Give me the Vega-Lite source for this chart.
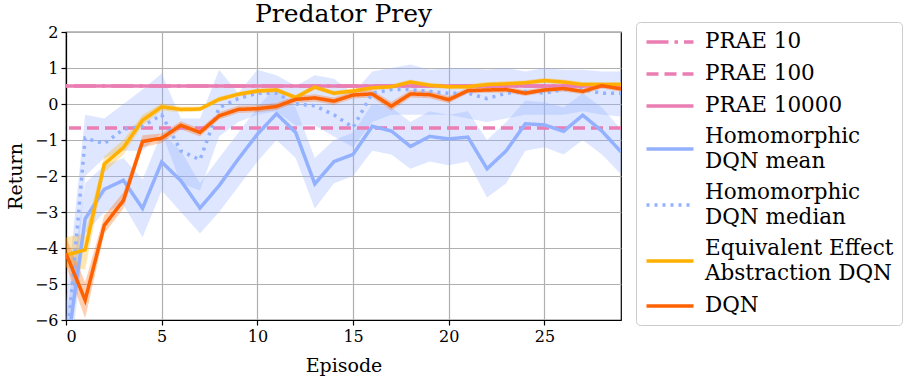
{
  "$schema": "https://vega.github.io/schema/vega-lite/v6.json",
  "autosize": "none",
  "width": 555,
  "height": 288,
  "padding": {"left": 66, "top": 32, "right": 292, "bottom": 61},
  "background": "white",
  "title": {"text": "Predator Prey", "font": "DejaVu Serif", "fontSize": 25, "fontWeight": "normal", "color": "black", "anchor": "middle", "offset": -5},
  "datasets": {
    "curves": [
      {"s": "Homomorphic DQN mean", "ep": 0, "v": -7, "lo": -8, "hi": -6},
      {"s": "Homomorphic DQN mean", "ep": 1, "v": -3.19, "lo": -3.6, "hi": -2.2},
      {"s": "Homomorphic DQN mean", "ep": 2, "v": -2.37, "lo": -3.0, "hi": -1.7},
      {"s": "Homomorphic DQN mean", "ep": 3, "v": -2.12, "lo": -2.8, "hi": -1.5},
      {"s": "Homomorphic DQN mean", "ep": 4, "v": -2.9, "lo": -3.7, "hi": -2.1},
      {"s": "Homomorphic DQN mean", "ep": 5, "v": -1.61, "lo": -2.4, "hi": -0.8},
      {"s": "Homomorphic DQN mean", "ep": 6, "v": -2.13, "lo": -3.0, "hi": -1.3},
      {"s": "Homomorphic DQN mean", "ep": 7, "v": -2.89, "lo": -3.6, "hi": -2.2},
      {"s": "Homomorphic DQN mean", "ep": 8, "v": -2.27, "lo": -3.0, "hi": -1.5},
      {"s": "Homomorphic DQN mean", "ep": 9, "v": -1.53, "lo": -2.3, "hi": -0.8},
      {"s": "Homomorphic DQN mean", "ep": 10, "v": -0.84, "lo": -1.6, "hi": -0.1},
      {"s": "Homomorphic DQN mean", "ep": 11, "v": -0.27, "lo": -1.0, "hi": 0.5},
      {"s": "Homomorphic DQN mean", "ep": 12, "v": -0.79, "lo": -1.5, "hi": -0.1},
      {"s": "Homomorphic DQN mean", "ep": 13, "v": -2.22, "lo": -2.9, "hi": -1.5},
      {"s": "Homomorphic DQN mean", "ep": 14, "v": -1.6, "lo": -2.2, "hi": -1.0},
      {"s": "Homomorphic DQN mean", "ep": 15, "v": -1.4, "lo": -2.0, "hi": -0.8},
      {"s": "Homomorphic DQN mean", "ep": 16, "v": -0.62, "lo": -1.3, "hi": 0.0},
      {"s": "Homomorphic DQN mean", "ep": 17, "v": -0.75, "lo": -1.4, "hi": -0.1},
      {"s": "Homomorphic DQN mean", "ep": 18, "v": -1.18, "lo": -1.8, "hi": -0.5},
      {"s": "Homomorphic DQN mean", "ep": 19, "v": -0.9, "lo": -1.6, "hi": -0.2},
      {"s": "Homomorphic DQN mean", "ep": 20, "v": -0.97, "lo": -1.7, "hi": -0.3},
      {"s": "Homomorphic DQN mean", "ep": 21, "v": -0.92, "lo": -1.6, "hi": -0.2},
      {"s": "Homomorphic DQN mean", "ep": 22, "v": -1.8, "lo": -2.6, "hi": -1.0},
      {"s": "Homomorphic DQN mean", "ep": 23, "v": -1.3, "lo": -2.2, "hi": -0.5},
      {"s": "Homomorphic DQN mean", "ep": 24, "v": -0.55, "lo": -1.3, "hi": 0.1},
      {"s": "Homomorphic DQN mean", "ep": 25, "v": -0.58, "lo": -1.2, "hi": 0.05},
      {"s": "Homomorphic DQN mean", "ep": 26, "v": -0.76, "lo": -1.4, "hi": -0.1},
      {"s": "Homomorphic DQN mean", "ep": 27, "v": -0.31, "lo": -1.0, "hi": 0.3},
      {"s": "Homomorphic DQN mean", "ep": 28, "v": -0.75, "lo": -1.4, "hi": -0.1},
      {"s": "Homomorphic DQN mean", "ep": 29, "v": -1.33, "lo": -1.95, "hi": -0.7},
      {"s": "Homomorphic DQN median", "ep": 0, "v": -7, "lo": -8, "hi": -5.5},
      {"s": "Homomorphic DQN median", "ep": 1, "v": -0.95, "lo": -2.0, "hi": -0.3},
      {"s": "Homomorphic DQN median", "ep": 2, "v": -1.1, "lo": -1.5, "hi": -0.4},
      {"s": "Homomorphic DQN median", "ep": 3, "v": -0.7, "lo": -1.3, "hi": 0.0},
      {"s": "Homomorphic DQN median", "ep": 4, "v": -0.62, "lo": -1.3, "hi": 0.4},
      {"s": "Homomorphic DQN median", "ep": 5, "v": -0.3, "lo": -0.8, "hi": 0.85},
      {"s": "Homomorphic DQN median", "ep": 6, "v": -1.3, "lo": -2.2, "hi": -0.4},
      {"s": "Homomorphic DQN median", "ep": 7, "v": -1.55, "lo": -2.4, "hi": -0.4},
      {"s": "Homomorphic DQN median", "ep": 8, "v": -0.1, "lo": -0.9, "hi": 0.95},
      {"s": "Homomorphic DQN median", "ep": 9, "v": 0.15, "lo": -0.5, "hi": 0.3},
      {"s": "Homomorphic DQN median", "ep": 10, "v": 0.3, "lo": -0.3, "hi": 0.95},
      {"s": "Homomorphic DQN median", "ep": 11, "v": 0.3, "lo": -0.2, "hi": 0.8},
      {"s": "Homomorphic DQN median", "ep": 12, "v": 0.0, "lo": -0.6, "hi": 0.5},
      {"s": "Homomorphic DQN median", "ep": 13, "v": -0.05, "lo": -0.6, "hi": 0.8},
      {"s": "Homomorphic DQN median", "ep": 14, "v": -0.3, "lo": -0.9, "hi": 0.7},
      {"s": "Homomorphic DQN median", "ep": 15, "v": -0.65, "lo": -1.2, "hi": 0.3},
      {"s": "Homomorphic DQN median", "ep": 16, "v": 0.3, "lo": -0.5, "hi": 0.9},
      {"s": "Homomorphic DQN median", "ep": 17, "v": 0.4, "lo": -0.3, "hi": 1.0},
      {"s": "Homomorphic DQN median", "ep": 18, "v": 0.4, "lo": -0.3, "hi": 1.1},
      {"s": "Homomorphic DQN median", "ep": 19, "v": 0.35, "lo": -0.3, "hi": 0.95},
      {"s": "Homomorphic DQN median", "ep": 20, "v": 0.3, "lo": -0.3, "hi": 1.0},
      {"s": "Homomorphic DQN median", "ep": 21, "v": 0.3, "lo": -0.4, "hi": 1.0},
      {"s": "Homomorphic DQN median", "ep": 22, "v": 0.15, "lo": -0.5, "hi": 0.95},
      {"s": "Homomorphic DQN median", "ep": 23, "v": 0.3, "lo": -0.4, "hi": 1.0},
      {"s": "Homomorphic DQN median", "ep": 24, "v": 0.35, "lo": -0.3, "hi": 0.9},
      {"s": "Homomorphic DQN median", "ep": 25, "v": 0.3, "lo": -0.3, "hi": 1.0},
      {"s": "Homomorphic DQN median", "ep": 26, "v": 0.4, "lo": -0.3, "hi": 0.95},
      {"s": "Homomorphic DQN median", "ep": 27, "v": 0.4, "lo": -0.2, "hi": 0.95},
      {"s": "Homomorphic DQN median", "ep": 28, "v": 0.3, "lo": -0.3, "hi": 0.9},
      {"s": "Homomorphic DQN median", "ep": 29, "v": 0.3, "lo": -0.35, "hi": 0.9},
      {"s": "Equivalent Effect Abstraction DQN", "ep": 0, "v": -4.2, "lo": -4.55, "hi": -3.7},
      {"s": "Equivalent Effect Abstraction DQN", "ep": 1, "v": -4.05, "lo": -4.6, "hi": -3.6},
      {"s": "Equivalent Effect Abstraction DQN", "ep": 2, "v": -1.67, "lo": -1.9, "hi": -1.45},
      {"s": "Equivalent Effect Abstraction DQN", "ep": 3, "v": -1.21, "lo": -1.4, "hi": -1.0},
      {"s": "Equivalent Effect Abstraction DQN", "ep": 4, "v": -0.45, "lo": -0.6, "hi": -0.3},
      {"s": "Equivalent Effect Abstraction DQN", "ep": 5, "v": -0.08, "lo": -0.18, "hi": 0.02},
      {"s": "Equivalent Effect Abstraction DQN", "ep": 6, "v": -0.15, "lo": -0.23, "hi": -0.07},
      {"s": "Equivalent Effect Abstraction DQN", "ep": 7, "v": -0.14, "lo": -0.21, "hi": -0.07},
      {"s": "Equivalent Effect Abstraction DQN", "ep": 8, "v": 0.13, "lo": 0.06, "hi": 0.2},
      {"s": "Equivalent Effect Abstraction DQN", "ep": 9, "v": 0.27, "lo": 0.2, "hi": 0.34},
      {"s": "Equivalent Effect Abstraction DQN", "ep": 10, "v": 0.36, "lo": 0.29, "hi": 0.43},
      {"s": "Equivalent Effect Abstraction DQN", "ep": 11, "v": 0.39, "lo": 0.32, "hi": 0.46},
      {"s": "Equivalent Effect Abstraction DQN", "ep": 12, "v": 0.18, "lo": 0.11, "hi": 0.25},
      {"s": "Equivalent Effect Abstraction DQN", "ep": 13, "v": 0.47, "lo": 0.4, "hi": 0.54},
      {"s": "Equivalent Effect Abstraction DQN", "ep": 14, "v": 0.3, "lo": 0.23, "hi": 0.37},
      {"s": "Equivalent Effect Abstraction DQN", "ep": 15, "v": 0.36, "lo": 0.29, "hi": 0.43},
      {"s": "Equivalent Effect Abstraction DQN", "ep": 16, "v": 0.45, "lo": 0.38, "hi": 0.52},
      {"s": "Equivalent Effect Abstraction DQN", "ep": 17, "v": 0.48, "lo": 0.41, "hi": 0.55},
      {"s": "Equivalent Effect Abstraction DQN", "ep": 18, "v": 0.61, "lo": 0.54, "hi": 0.68},
      {"s": "Equivalent Effect Abstraction DQN", "ep": 19, "v": 0.52, "lo": 0.45, "hi": 0.59},
      {"s": "Equivalent Effect Abstraction DQN", "ep": 20, "v": 0.48, "lo": 0.41, "hi": 0.55},
      {"s": "Equivalent Effect Abstraction DQN", "ep": 21, "v": 0.48, "lo": 0.41, "hi": 0.55},
      {"s": "Equivalent Effect Abstraction DQN", "ep": 22, "v": 0.54, "lo": 0.47, "hi": 0.61},
      {"s": "Equivalent Effect Abstraction DQN", "ep": 23, "v": 0.56, "lo": 0.49, "hi": 0.63},
      {"s": "Equivalent Effect Abstraction DQN", "ep": 24, "v": 0.59, "lo": 0.52, "hi": 0.66},
      {"s": "Equivalent Effect Abstraction DQN", "ep": 25, "v": 0.65, "lo": 0.58, "hi": 0.72},
      {"s": "Equivalent Effect Abstraction DQN", "ep": 26, "v": 0.61, "lo": 0.54, "hi": 0.68},
      {"s": "Equivalent Effect Abstraction DQN", "ep": 27, "v": 0.54, "lo": 0.47, "hi": 0.61},
      {"s": "Equivalent Effect Abstraction DQN", "ep": 28, "v": 0.54, "lo": 0.47, "hi": 0.61},
      {"s": "Equivalent Effect Abstraction DQN", "ep": 29, "v": 0.54, "lo": 0.47, "hi": 0.61},
      {"s": "DQN", "ep": 0, "v": -4.15, "lo": -4.5, "hi": -3.7},
      {"s": "DQN", "ep": 1, "v": -5.45, "lo": -5.95, "hi": -4.95},
      {"s": "DQN", "ep": 2, "v": -3.37, "lo": -3.6, "hi": -3.1},
      {"s": "DQN", "ep": 3, "v": -2.68, "lo": -2.9, "hi": -2.45},
      {"s": "DQN", "ep": 4, "v": -1.04, "lo": -1.2, "hi": -0.87},
      {"s": "DQN", "ep": 5, "v": -0.95, "lo": -1.08, "hi": -0.82},
      {"s": "DQN", "ep": 6, "v": -0.59, "lo": -0.7, "hi": -0.48},
      {"s": "DQN", "ep": 7, "v": -0.79, "lo": -0.9, "hi": -0.68},
      {"s": "DQN", "ep": 8, "v": -0.33, "lo": -0.43, "hi": -0.23},
      {"s": "DQN", "ep": 9, "v": -0.15, "lo": -0.25, "hi": -0.05},
      {"s": "DQN", "ep": 10, "v": -0.13, "lo": -0.23, "hi": -0.03},
      {"s": "DQN", "ep": 11, "v": -0.07, "lo": -0.17, "hi": 0.03},
      {"s": "DQN", "ep": 12, "v": 0.13, "lo": 0.03, "hi": 0.23},
      {"s": "DQN", "ep": 13, "v": 0.17, "lo": 0.07, "hi": 0.27},
      {"s": "DQN", "ep": 14, "v": 0.08, "lo": -0.02, "hi": 0.18},
      {"s": "DQN", "ep": 15, "v": 0.25, "lo": 0.15, "hi": 0.35},
      {"s": "DQN", "ep": 16, "v": 0.28, "lo": 0.18, "hi": 0.38},
      {"s": "DQN", "ep": 17, "v": -0.06, "lo": -0.18, "hi": 0.06},
      {"s": "DQN", "ep": 18, "v": 0.28, "lo": 0.18, "hi": 0.38},
      {"s": "DQN", "ep": 19, "v": 0.26, "lo": 0.16, "hi": 0.36},
      {"s": "DQN", "ep": 20, "v": 0.12, "lo": 0.02, "hi": 0.22},
      {"s": "DQN", "ep": 21, "v": 0.37, "lo": 0.29, "hi": 0.45},
      {"s": "DQN", "ep": 22, "v": 0.39, "lo": 0.31, "hi": 0.47},
      {"s": "DQN", "ep": 23, "v": 0.4, "lo": 0.32, "hi": 0.48},
      {"s": "DQN", "ep": 24, "v": 0.3, "lo": 0.22, "hi": 0.38},
      {"s": "DQN", "ep": 25, "v": 0.39, "lo": 0.31, "hi": 0.47},
      {"s": "DQN", "ep": 26, "v": 0.43, "lo": 0.35, "hi": 0.51},
      {"s": "DQN", "ep": 27, "v": 0.35, "lo": 0.27, "hi": 0.43},
      {"s": "DQN", "ep": 28, "v": 0.51, "lo": 0.43, "hi": 0.59},
      {"s": "DQN", "ep": 29, "v": 0.42, "lo": 0.34, "hi": 0.5}
    ],
    "prae": [
      {"s": "PRAE 10", "v": 0.5},
      {"s": "PRAE 100", "v": -0.67},
      {"s": "PRAE 10000", "v": 0.5}
    ]
  },
  "encoding": {
    "x": {"field": "ep", "type": "quantitative", "scale": {"domain": [0, 29], "nice": false, "zero": false}, "axis": {"values": [0, 5, 10, 15, 20, 25], "title": "Episode", "tickCount": 20, "format": "d"}}
  },
  "layer": [
    {
      "data": {"name": "curves"},
      "transform": [{"filter": "datum.s == 'Homomorphic DQN mean' || datum.s == 'Homomorphic DQN median'"}],
      "mark": {"type": "area", "opacity": 0.3, "color": "#93b1ff", "clip": true},
      "encoding": {
        "y": {"field": "lo", "type": "quantitative", "scale": {"domain": [-6, 2], "nice": false, "zero": false}, "axis": {"values": [-6, -5, -4, -3, -2, -1, 0, 1, 2], "title": "Return", "labelOverlap": false, "tickCount": 20, "format": "d"}},
        "y2": {"field": "hi"},
        "detail": {"field": "s", "type": "nominal"}
      }
    },
    {
      "data": {"name": "curves"},
      "transform": [{"filter": "datum.s == 'Equivalent Effect Abstraction DQN'"}],
      "mark": {"type": "area", "opacity": 0.3, "color": "#FFB000", "clip": true},
      "encoding": {
        "y": {"field": "lo", "type": "quantitative", "axis": {"values": [-6, -5, -4, -3, -2, -1, 0, 1, 2], "title": "Return", "labelOverlap": false, "tickCount": 20, "format": "d"}},
        "y2": {"field": "hi"}
      }
    },
    {
      "data": {"name": "curves"},
      "transform": [{"filter": "datum.s == 'DQN'"}],
      "mark": {"type": "area", "opacity": 0.3, "color": "#FE6100", "clip": true},
      "encoding": {
        "y": {"field": "lo", "type": "quantitative", "axis": {"values": [-6, -5, -4, -3, -2, -1, 0, 1, 2], "title": "Return", "labelOverlap": false, "tickCount": 20, "format": "d"}},
        "y2": {"field": "hi"}
      }
    },
    {
      "data": {"name": "prae"},
      "mark": {"type": "rule", "strokeWidth": 3.5, "clip": true},
      "encoding": {
        "x": null,
        "y": {"field": "v", "type": "quantitative", "axis": {"values": [-6, -5, -4, -3, -2, -1, 0, 1, 2], "title": "Return", "labelOverlap": false, "tickCount": 20, "format": "d"}},
        "color": {"field": "s", "type": "nominal"},
        "strokeDash": {"field": "s", "type": "nominal"}
      }
    },
    {
      "data": {"name": "curves"},
      "mark": {"type": "line", "strokeWidth": 3.5, "clip": true},
      "encoding": {
        "y": {"field": "v", "type": "quantitative", "axis": {"values": [-6, -5, -4, -3, -2, -1, 0, 1, 2], "title": "Return", "labelOverlap": false, "tickCount": 20, "format": "d"}},
        "color": {
          "field": "s", "type": "nominal",
          "scale": {
            "domain": ["PRAE 10", "PRAE 100", "PRAE 10000", "Homomorphic DQN mean", "Homomorphic DQN median", "Equivalent Effect Abstraction DQN", "DQN"],
            "range": ["#ea7db2", "#ea7db2", "#ea7db2", "#93b1ff", "#93b1ff", "#FFB000", "#FE6100"]
          },
          "legend": {
            "orient": "none", "legendX": 570, "legendY": -10, "title": null,
            "labelExpr": "datum.label == 'Homomorphic DQN mean' ? ['Homomorphic', 'DQN mean'] : datum.label == 'Homomorphic DQN median' ? ['Homomorphic', 'DQN median'] : datum.label == 'Equivalent Effect Abstraction DQN' ? ['Equivalent Effect', 'Abstraction DQN'] : datum.label",
            "encode": {"labels": {"update": {"lineHeight": {"value": 25}, "dy": {"signal": "indexof(['Homomorphic DQN mean', 'Homomorphic DQN median', 'Equivalent Effect Abstraction DQN'], datum.label) >= 0 ? -12 : 0"}}}}
          }
        },
        "strokeDash": {
          "field": "s", "type": "nominal",
          "scale": {
            "domain": ["PRAE 10", "PRAE 100", "PRAE 10000", "Homomorphic DQN mean", "Homomorphic DQN median", "Equivalent Effect Abstraction DQN", "DQN"],
            "range": [[22, 6, 3.5, 6], [12, 6], [1, 0], [1, 0], [3, 5], [1, 0], [1, 0]]
          },
          "legend": {
            "orient": "none", "legendX": 570, "legendY": -10, "title": null,
            "labelExpr": "datum.label == 'Homomorphic DQN mean' ? ['Homomorphic', 'DQN mean'] : datum.label == 'Homomorphic DQN median' ? ['Homomorphic', 'DQN median'] : datum.label == 'Equivalent Effect Abstraction DQN' ? ['Equivalent Effect', 'Abstraction DQN'] : datum.label",
            "encode": {"labels": {"update": {"lineHeight": {"value": 25}, "dy": {"signal": "indexof(['Homomorphic DQN mean', 'Homomorphic DQN median', 'Equivalent Effect Abstraction DQN'], datum.label) >= 0 ? -12 : 0"}}}}
          }
        }
      }
    }
  ],
  "config": {
    "view": {"stroke": "black", "strokeWidth": 1.2},
    "axis": {
      "labelFont": "DejaVu Serif", "labelFontSize": 16, "labelColor": "black",
      "titleFont": "DejaVu Serif", "titleFontSize": 19, "titleFontWeight": "normal", "titleColor": "black",
      "domainColor": "black", "domainWidth": 1.2, "tickColor": "black", "tickSize": 5, "tickWidth": 1.2,
      "gridColor": "#b0b0b0", "gridWidth": 1.2, "grid": true, "labelPadding": 3
    },
    "axisX": {"titlePadding": 12},
    "axisY": {"titlePadding": 9, "tickCount": 20, "labelOverlap": false},
    "legend": {
      "labelFont": "DejaVu Serif", "labelFontSize": 21.5, "labelColor": "black", "labelLimit": 0,
      "labelOffset": 23, "symbolType": "M-2.35,0H2.35", "symbolSize": 400, "symbolStrokeWidth": 3.5, "symbolOffset": 14,
      "rowPadding": 9, "padding": 8, "strokeColor": "#cccccc", "fillColor": "white", "cornerRadius": 4
    }
  }
}
